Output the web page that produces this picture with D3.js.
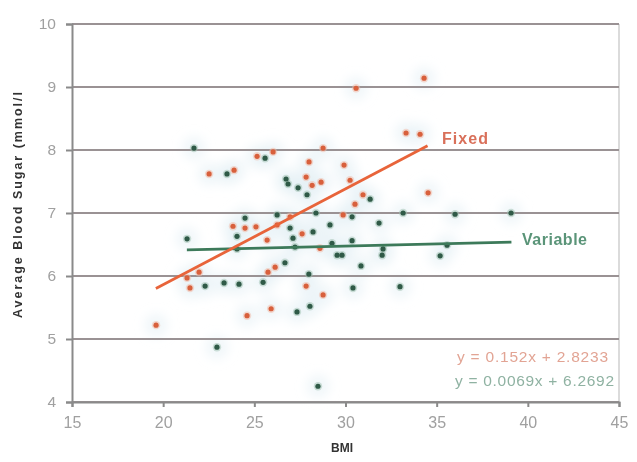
<!DOCTYPE html>
<html><head><meta charset="utf-8">
<script src="https://cdn.jsdelivr.net/npm/d3@7"></script>
<style>body{margin:0;background:#fff}svg{display:block;font-family:Arial,"Liberation Sans",sans-serif}</style>
</head><body>
<svg id="c" width="637" height="462"></svg>
<script>
const fixedBMI = [19.61,21.31,21.97,21.47,22.52,23.89,23.83,24.49,25.09,24.60,25.15,26.03,25.70,26.25,25.75,26.14,25.92,26.96,27.62,27.84,28.0,28.17,28.66,28.77,27.84,28.77,29.92,30.25,29.87,30.52,30.96,30.58,33.32,34.09,34.31,34.53,28.6];
const fixedSugar = [5.22,5.97,6.06,5.81,7.62,7.68,6.79,6.76,6.78,5.37,7.90,7.97,6.57,6.81,6.06,6.14,5.48,6.94,6.67,7.57,7.81,7.44,7.49,8.03,5.84,5.70,7.76,7.52,6.97,7.14,7.29,8.98,8.27,8.25,9.14,7.32,6.44];
const variableBMI = [21.69,23.50,25.59,26.74,26.85,27.40,27.89,24.49,26.25,28.38,21.31,24.05,24.05,26.96,27.12,27.23,28.22,29.15,29.26,29.54,29.81,30.36,30.36,31.35,31.84,32.01,32.06,30.85,33.16,36.01,39.08,35.57,35.19,26.68,27.99,22.30,23.34,24.16,25.48,27.34,28.05,30.41,32.99,22.95,28.49];
const variableSugar = [8.03,7.62,7.87,7.54,7.46,7.40,7.29,6.92,6.97,7.00,6.59,6.63,6.43,6.76,6.60,6.46,6.70,6.81,6.52,6.33,6.33,6.94,6.56,7.22,6.84,6.33,6.43,6.16,7.00,6.98,7.00,6.49,6.32,6.21,6.03,5.84,5.89,5.87,5.90,5.43,5.52,5.81,5.83,4.87,4.25];
const xTicks = [15,20,25,30,35,40,45];
const yTicks = [4,5,6,7,8,9,10];
const fixedFit = {slope:0.152, intercept:2.8233, x0:19.6, x1:34.5, label:"y = 0.152x + 2.8233"};
const variableFit = {slope:0.0069, intercept:6.2692, x0:21.3, x1:39.1, label:"y = 0.0069x + 6.2692"};

const svg = d3.select("#c");
const L=72,R=619,T=24,B=402;
const x = d3.scaleLinear().domain([15,45]).range([L,R]);
const y = d3.scaleLinear().domain([4,10]).range([B,T]);

const defs = svg.append("defs");
defs.append("filter").attr("id","blur").append("feGaussianBlur").attr("stdDeviation",6);

// soft halo cloud
const halo = svg.append("g").attr("filter","url(#blur)");
const allPts = fixedBMI.map((d,i)=>[d,fixedSugar[i]]).concat(variableBMI.map((d,i)=>[d,variableSugar[i]]));
halo.selectAll("circle").data(allPts).enter().append("circle")
  .attr("cx",d=>x(d[0])).attr("cy",d=>y(d[1])).attr("r",11)
  .attr("fill","#e2eff4").attr("opacity",0.55);

// right border
svg.append("line").attr("x1",R).attr("x2",R).attr("y1",T).attr("y2",B).attr("stroke","#cfcfcf").attr("stroke-width",1.5);
// gridlines
svg.append("g").selectAll("line").data(yTicks).enter().append("line")
  .attr("x1",L).attr("x2",R).attr("y1",d=>y(d)).attr("y2",d=>y(d))
  .attr("stroke","#9a9294").attr("stroke-width",2);

// y axis
const ya = svg.append("g").attr("transform",`translate(${L},0)`)
  .call(d3.axisLeft(y).tickValues(yTicks).tickSize(6).tickPadding(10).tickFormat(d3.format("d")));
ya.select(".domain").attr("stroke","#8a8a8a").attr("stroke-width",2);
ya.selectAll(".tick line").attr("stroke","#8a8a8a").attr("stroke-width",2);
ya.selectAll("text").attr("fill","#a0a0a0").attr("font-size",15.5).attr("font-family","Arial, Liberation Sans, sans-serif");

// x axis
const xa = svg.append("g").attr("transform",`translate(0,${B})`)
  .call(d3.axisBottom(x).tickValues(xTicks).tickSize(5).tickPadding(10).tickFormat(d3.format("d")));
xa.select(".domain").attr("stroke","#8a8a8a").attr("stroke-width",2);
xa.selectAll(".tick line").attr("stroke","#8a8a8a").attr("stroke-width",2);
xa.selectAll("text").attr("fill","#a0a0a0").attr("font-size",16).attr("font-family","Arial, Liberation Sans, sans-serif");

// trend lines
function fitLine(f,color){
  svg.append("line")
    .attr("x1",x(f.x0)).attr("y1",y(f.slope*f.x0+f.intercept))
    .attr("x2",x(f.x1)).attr("y2",y(f.slope*f.x1+f.intercept))
    .attr("stroke",color).attr("stroke-width",2.8);
}

// points
function pts(xs,ys,color,haloColor){
  const g = svg.append("g");
  g.selectAll("circle.h").data(xs).enter().append("circle").attr("class","h")
    .attr("cx",d=>x(d)).attr("cy",(d,i)=>y(ys[i])).attr("r",4.2).attr("fill",haloColor).attr("opacity",0.5);
  g.selectAll("circle.p").data(xs).enter().append("circle").attr("class","p")
    .attr("cx",d=>x(d)).attr("cy",(d,i)=>y(ys[i])).attr("r",2.6).attr("fill",color);
}
pts(variableBMI,variableSugar,"#2f5a47","#9fc1b2");
pts(fixedBMI,fixedSugar,"#d8603c","#f2b9a6");
fitLine(variableFit,"#3d7a5a");
fitLine(fixedFit,"#e8643a");

// series labels
svg.append("text").attr("x",442).attr("y",y(8.19)).attr("dy","0.35em")
  .attr("fill","#d9705a").attr("font-size",16).attr("font-weight","bold")
  .attr("textLength",46).attr("lengthAdjust","spacing").text("Fixed");
svg.append("text").attr("x",522).attr("y",y(6.58)).attr("dy","0.35em")
  .attr("fill","#5a9478").attr("font-size",16).attr("font-weight","bold")
  .attr("textLength",65).attr("lengthAdjust","spacing").text("Variable");

// equations
svg.append("text").attr("x",457).attr("y",357).attr("dy","0.35em")
  .attr("fill","#e2a494").attr("font-size",15.5).attr("textLength",151).attr("lengthAdjust","spacing").text(fixedFit.label);
svg.append("text").attr("x",455).attr("y",381).attr("dy","0.35em")
  .attr("fill","#8fb2a2").attr("font-size",15.5).attr("textLength",159).attr("lengthAdjust","spacing").text(variableFit.label);

// axis titles
svg.append("text").attr("x",342).attr("y",452).attr("text-anchor","middle")
  .attr("fill","#333").attr("font-size",12).attr("font-weight","bold").text("BMI");
svg.append("text").attr("transform","translate(18,205) rotate(-90)").attr("text-anchor","middle").attr("dy","0.35em")
  .attr("fill","#333").attr("font-size",12.5).attr("font-weight","bold").attr("textLength",226).attr("lengthAdjust","spacing")
  .text("Average Blood Sugar (mmol/l");
</script>
</body></html>
